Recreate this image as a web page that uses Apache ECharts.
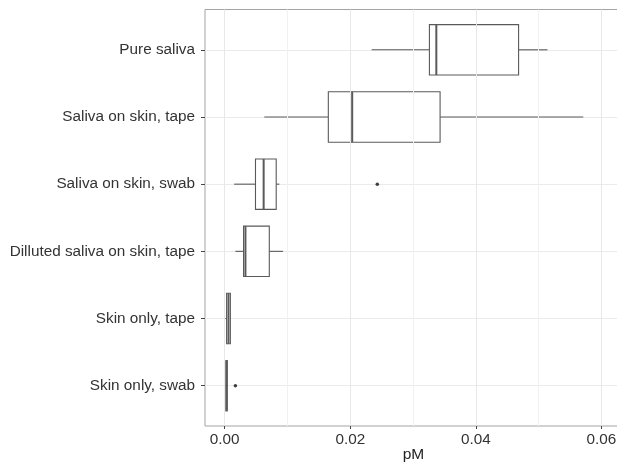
<!DOCTYPE html>
<html>
<head>
<meta charset="utf-8">
<script src="https://cdn.jsdelivr.net/npm/echarts@6/dist/echarts.min.js"></script>
<style>
  html, body { margin: 0; padding: 0; background: #ffffff; }
  #chart { width: 617px; height: 464px; }
</style>
</head>
<body>
<div id="chart"></div>
<script>
// Groups, top to bottom
var categories = [
  'Pure saliva',
  'Saliva on skin, tape',
  'Saliva on skin, swab',
  'Dilluted saliva on skin, tape',
  'Skin only, tape',
  'Skin only, swab'
];

// Five-number summaries per group (pM)
var whiskerLow  = [0.0234, 0.0063, 0.0015, 0.0017, 0.0001, 0.0001];
var quartile1   = [0.0326, 0.0165, 0.0049, 0.0030, 0.0003, 0.0002];
var medians     = [0.0337, 0.0203, 0.0062, 0.0033, 0.0006, 0.0003];
var quartile3   = [0.0468, 0.0343, 0.0082, 0.0071, 0.0009, 0.0004];
var whiskerHigh = [0.0514, 0.0571, 0.0087, 0.0093, 0.0010, 0.0005];

// Outlying points: value and group index
var outlierValues = [0.0243, 0.0017];
var outlierGroups = [2, 5];

// Axis ticks
var xLabelTicks = [0, 0.02, 0.04, 0.06];
var xGridTicks = [0, 0.01, 0.02, 0.03, 0.04, 0.05, 0.06];
var yTicks = [0, 1, 2, 3, 4, 5];

var FONT = '"Liberation Sans", Arial, Helvetica, sans-serif';
var TEXT = '#333333';
var STROKE = '#5a5a5a';

var boxData = categories.map(function (c, i) {
  return [i, whiskerLow[i], quartile1[i], medians[i], quartile3[i], whiskerHigh[i]];
});
var outlierData = outlierValues.map(function (v, i) {
  return [v, outlierGroups[i]];
});

function renderBox(params, api) {
  var idx = api.value(0);
  var lo = api.coord([api.value(1), idx]);
  var q1 = api.coord([api.value(2), idx]);
  var md = api.coord([api.value(3), idx]);
  var q3 = api.coord([api.value(4), idx]);
  var hi = api.coord([api.value(5), idx]);
  var half = api.size([0, 1])[1] * 0.375;
  var y = q1[1];
  var lineStyle = { stroke: STROKE, lineWidth: 1.1, fill: null };
  return {
    type: 'group',
    children: [
      { type: 'line', shape: { x1: lo[0], y1: y, x2: q1[0], y2: y }, style: lineStyle },
      { type: 'line', shape: { x1: q3[0], y1: y, x2: hi[0], y2: y }, style: lineStyle },
      { type: 'rect',
        shape: { x: q1[0], y: y - half, width: Math.max(q3[0] - q1[0], 0.5), height: half * 2 },
        style: { stroke: STROKE, lineWidth: 1.1, fill: '#ffffff' } },
      { type: 'line', shape: { x1: md[0], y1: y - half, x2: md[0], y2: y + half },
        style: { stroke: STROKE, lineWidth: 2 } }
    ]
  };
}

var chart = echarts.init(document.getElementById('chart'), null, { renderer: 'canvas' });
chart.setOption({
  animation: false,
  backgroundColor: '#ffffff',
  grid: {
    left: 205, top: 9.5, width: 417, height: 416.5,
    outerBoundsMode: 'none',
    containLabel: false,
    show: true, borderColor: '#a3a3a3', borderWidth: 1, backgroundColor: 'transparent'
  },
  xAxis: {
    type: 'value',
    min: -0.00314,
    max: 0.06327,
    name: 'pM',
    nameLocation: 'middle',
    nameGap: 21,
    nameMoveOverlap: false,
    nameTextStyle: { fontFamily: FONT, fontSize: 15.5, color: '#222222' },
    axisLine: { show: false, onZero: false },
    axisTick: { show: true, length: 3, customValues: xLabelTicks, lineStyle: { color: '#444444' } },
    axisLabel: {
      customValues: xLabelTicks,
      margin: 6,
      fontFamily: FONT, fontSize: 15.3, color: TEXT,
      formatter: function (v) { return v.toFixed(2); }
    },
    splitLine: { show: false }
  },
  yAxis: {
    type: 'value',
    min: -0.6,
    max: 5.6,
    inverse: true,
    axisLine: { show: false, onZero: false },
    axisTick: { show: true, length: 4, customValues: yTicks, lineStyle: { color: '#444444' } },
    axisLabel: {
      customValues: yTicks,
      margin: 10,
      fontFamily: FONT, fontSize: 15.3, color: TEXT,
      formatter: function (v) { return categories[Math.round(v)] || ''; }
    },
    splitLine: { show: true, lineStyle: { color: '#ebebeb', width: 1 } }
  },
  series: [
    {
      // vertical grid lines at major and minor steps
      type: 'line',
      data: [],
      markLine: {
        silent: true,
        symbol: 'none',
        label: { show: false },
        lineStyle: { type: 'solid', width: 1 },
        data: xGridTicks.map(function (v, i) {
          return { xAxis: v, lineStyle: { color: i % 2 === 0 ? '#e8e8e8' : '#f1f1f1' } };
        })
      }
    },
    {
      type: 'custom',
      renderItem: renderBox,
      encode: { x: [1, 2, 3, 4, 5], y: 0 },
      data: boxData,
      z: 3
    },
    {
      type: 'scatter',
      data: outlierData,
      symbol: 'circle',
      symbolSize: 3.5,
      itemStyle: { color: '#111111' },
      z: 4
    }
  ]
});
</script>
</body>
</html>
